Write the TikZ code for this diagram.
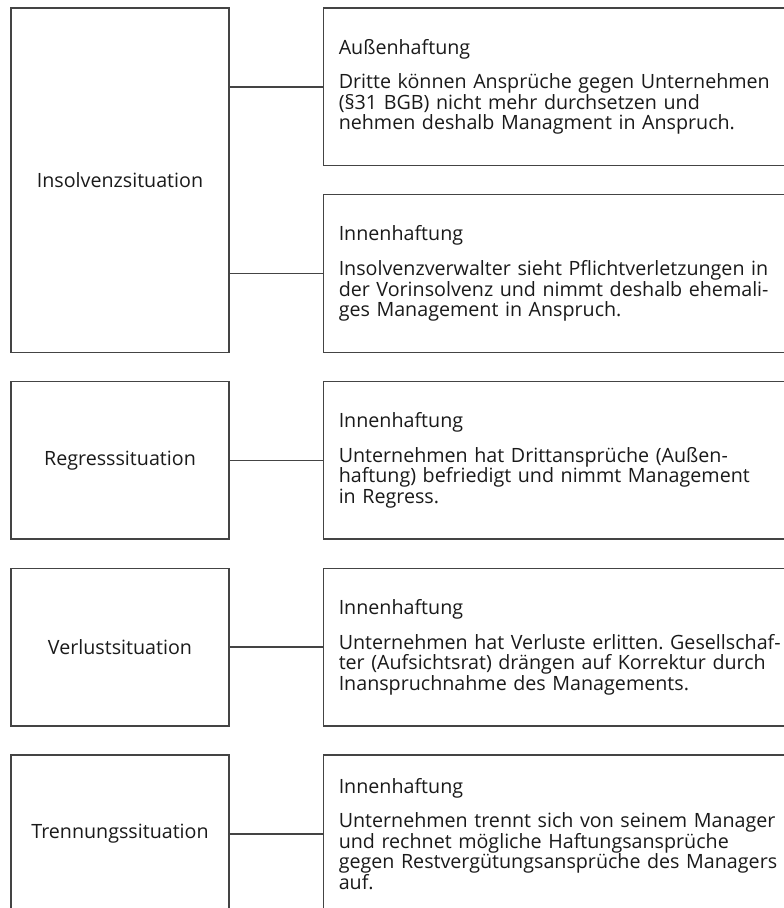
\documentclass[tikz,border=0pt]{standalone}
\usepackage{fontspec}
\setmainfont{Open Sans}
\frenchspacing
\usetikzlibrary{positioning}
\definecolor{lineCol}{HTML}{444444}
\definecolor{textCol}{HTML}{1A1A1A}

\begin{document}
\begin{tikzpicture}[
    % Node styles
    situation/.style={
        rectangle,
        draw=lineCol,
        line width=0.85pt,
        text=textCol,
        font=\fontsize{11.2}{11.7}\selectfont,
        minimum width=4.36cm,
        minimum height=3.154cm,
        align=center
    },
    haftung/.style={
        rectangle,
        draw=lineCol,
        line width=0.85pt,
        text=textCol,
        font=\fontsize{11.2}{11.7}\selectfont,
        anchor=west,
        text width=9.4cm,
        inner xsep=0.3cm,
        minimum height=3.154cm,
        align=left
    },
    link/.style={
        draw=lineCol,
        line width=0.85pt
    }
]

    \useasboundingbox (0,0) rectangle (15.68,-18.16);

    % ==== SITUATIONS (LEFT SIDE) ====
    \node[situation, minimum height=6.889cm] (insolvenz) at (2.4,-3.6045) {Insolvenzsituation};
    \node[situation] (regress) at (2.4,-9.207) {Regresssituation};
    \node[situation] (verlust) at (2.4,-12.942) {Verlustsituation};
    \node[situation] (trennung) at (2.4,-16.677) {Trennungssituation};

    % ==== HAFTUNG (RIGHT SIDE) ====
    \node[haftung] (aussen) at (6.46,-1.737) {Außenhaftung\\[8pt]
        Dritte können Ansprüche gegen Unternehmen\\
        (§31 BGB) nicht mehr durchsetzen und\\
        nehmen deshalb Managment in Anspruch.};
    \node[haftung] (innenIns) at (6.46,-5.472) {Innenhaftung\\[8pt]
        Insolvenzverwalter sieht Pflichtverletzungen in\\
        der Vorinsolvenz und nimmt deshalb ehemali-\\
        ges Management in Anspruch.};
    \node[haftung] (innenReg) at (6.46,-9.207) {Innenhaftung\\[8pt]
        Unternehmen hat Drittansprüche (Außen-\\
        haftung) befriedigt und nimmt Management\\
        in Regress.};
    \node[haftung] (innenVer) at (6.46,-12.942) {Innenhaftung\\[8pt]
        Unternehmen hat Verluste erlitten. Gesellschaf-\\
        ter (Aufsichtsrat) drängen auf Korrektur durch\\
        Inanspruchnahme des Managements.};
    \node[haftung] (innenTre) at (6.46,-16.677) {Innenhaftung\\[8pt]
        Unternehmen trennt sich von seinem Manager\\
        und rechnet mögliche Haftungsansprüche\\
        gegen Restvergütungsansprüche des Managers\\
        auf.};

    % ==== CONNECTIONS ====
    \draw[link] (insolvenz.east |- aussen.west) -- (aussen.west);
    \draw[link] (insolvenz.east |- innenIns.west) -- (innenIns.west);
    \draw[link] (regress.east) -- (innenReg.west);
    \draw[link] (verlust.east) -- (innenVer.west);
    \draw[link] (trennung.east) -- (innenTre.west);

\end{tikzpicture}
\end{document}
